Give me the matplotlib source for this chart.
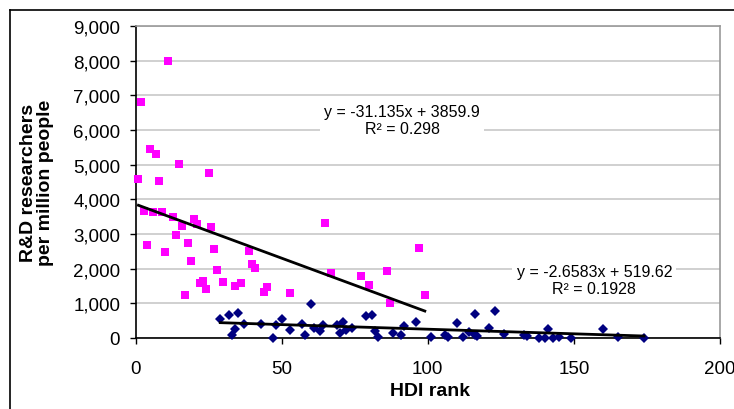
import matplotlib
matplotlib.use("Agg")
import matplotlib.pyplot as plt
import numpy as np
from matplotlib.lines import Line2D
from matplotlib.ticker import FuncFormatter

plt.rcParams['font.family'] = ['Liberation Sans', 'DejaVu Sans']

# Series 1 (magenta squares): HDI rank vs researchers per million
hi_rank = [1, 2, 3, 4, 5, 6, 7, 8, 9, 10, 11, 13, 14, 15, 16, 17, 18, 19, 20, 21,
           22, 23, 24, 25, 26, 27, 28, 30, 34, 36, 39, 40, 41, 44, 45, 53, 65, 67,
           77, 80, 86, 87, 97, 99]
hi_res = [4600, 6800, 3660, 2690, 5450, 3630, 5320, 4530, 3640, 2470, 8000, 3500,
          2980, 5030, 3230, 1240, 2730, 2220, 3420, 3300, 1600, 1650, 1420, 4770,
          3210, 2560, 1960, 1620, 1500, 1580, 2510, 2140, 2010, 1340, 1460, 1290,
          3330, 1880, 1800, 1540, 1920, 1020, 2600, 1250]

# Series 2 (navy diamonds)
lo_rank = [29, 32, 33, 34, 35, 37, 43, 47, 48, 50, 53, 57, 58, 60, 61, 63, 64, 69,
           70, 71, 72, 74, 79, 81, 82, 83, 88, 91, 92, 96, 101, 106, 107, 110, 112,
           114, 116, 116, 117, 121, 123, 126, 133, 134, 138, 140, 141, 143, 145,
           149, 160, 165, 174]
lo_res = [560, 670, 80, 250, 720, 410, 400, 0, 385, 550, 230, 390, 80, 975, 300,
          190, 385, 365, 150, 470, 235, 300, 625, 675, 205, 20, 155, 75, 350, 460,
          40, 100, 15, 425, 20, 170, 680, 85, 55, 295, 765, 115, 90, 50, 10, 10,
          260, 0, 40, 10, 260, 40, 0]

# Trend line coefficients (as printed on the chart)
hi_slope, hi_icpt, hi_r2 = -31.135, 3859.9, 0.298
lo_slope, lo_icpt, lo_r2 = -2.6583, 519.62, 0.1928

x_ticks = [0, 50, 100, 150, 200]
y_ticks = list(range(0, 9001, 1000))

W, H = 734, 410
fig = plt.figure(figsize=(W / 100, H / 100), dpi=100)
L, R, T, B = 135.5, 720, 27, 339
ax = fig.add_axes([L / W, 1 - B / H, (R - L) / W, (B - T) / H])

ax.set_xlim(0, 200)
ax.set_ylim(0, 9000)
ax.set_xticks(x_ticks)
ax.set_yticks(y_ticks)
ax.yaxis.set_major_formatter(FuncFormatter(lambda v, p: f"{int(v):,}"))
ax.grid(axis='y', color='#c8c8c8', linewidth=1.2, zorder=0)
ax.set_axisbelow(True)

ax.plot(hi_rank, hi_res, linestyle='none', marker='s', markersize=6.3,
        color='#ff00ff', markeredgewidth=0, zorder=3, clip_on=False)
ax.plot(lo_rank, lo_res, linestyle='none', marker='D', markersize=5.4,
        color='#000080', markeredgewidth=0, zorder=3, clip_on=False)

xh = np.array([min(hi_rank), max(hi_rank)])
ax.plot(xh, hi_slope * xh + hi_icpt, color='black', linewidth=2, zorder=4)
xl = np.array([min(lo_rank), max(lo_rank)])
ax.plot(xl, lo_slope * xl + lo_icpt, color='black', linewidth=2, zorder=4)

ax.text(91.3, 6290, f"y = {hi_slope}x + {hi_icpt}\nR² = {hi_r2}", ha='center',
        va='center', fontsize=11.5, linespacing=1.2, zorder=5,
        bbox=dict(facecolor='white', edgecolor='none', pad=3))
ax.text(157, 1670, f"y = {lo_slope}x + {lo_icpt}\nR² = {lo_r2}", ha='center',
        va='center', fontsize=11.5, linespacing=1.2, zorder=5,
        bbox=dict(facecolor='white', edgecolor='none', pad=3))

for s in ['top', 'right']:
    ax.spines[s].set_color('#999999')
    ax.spines[s].set_linewidth(1.2)
for s in ['left', 'bottom']:
    ax.spines[s].set_color('black')
    ax.spines[s].set_linewidth(1.2)

ax.tick_params(axis='both', direction='out', length=4, width=1, labelsize=13.5,
               colors='black')
ax.tick_params(axis='x', pad=12)
ax.tick_params(axis='y', pad=7)

fig.text(430 / W, 1 - 392 / H, 'HDI rank', fontsize=14, fontweight='bold',
         ha='center', va='center')
fig.text(37 / W, 1 - 183 / H, 'R&D researchers\nper million people', fontsize=14,
         fontweight='bold', rotation=90, ha='center', va='center',
         multialignment='center', linespacing=1.0)

# outer chart frame (partially visible)
fig.add_artist(Line2D([10 / W, 1], [1 - 11 / H, 1 - 11 / H], color='black', lw=1.2,
                      transform=fig.transFigure))
fig.add_artist(Line2D([10 / W, 10 / W], [0, 1 - 11 / H], color='black', lw=1.2,
                      transform=fig.transFigure))

fig.savefig('out.png', dpi=100)
